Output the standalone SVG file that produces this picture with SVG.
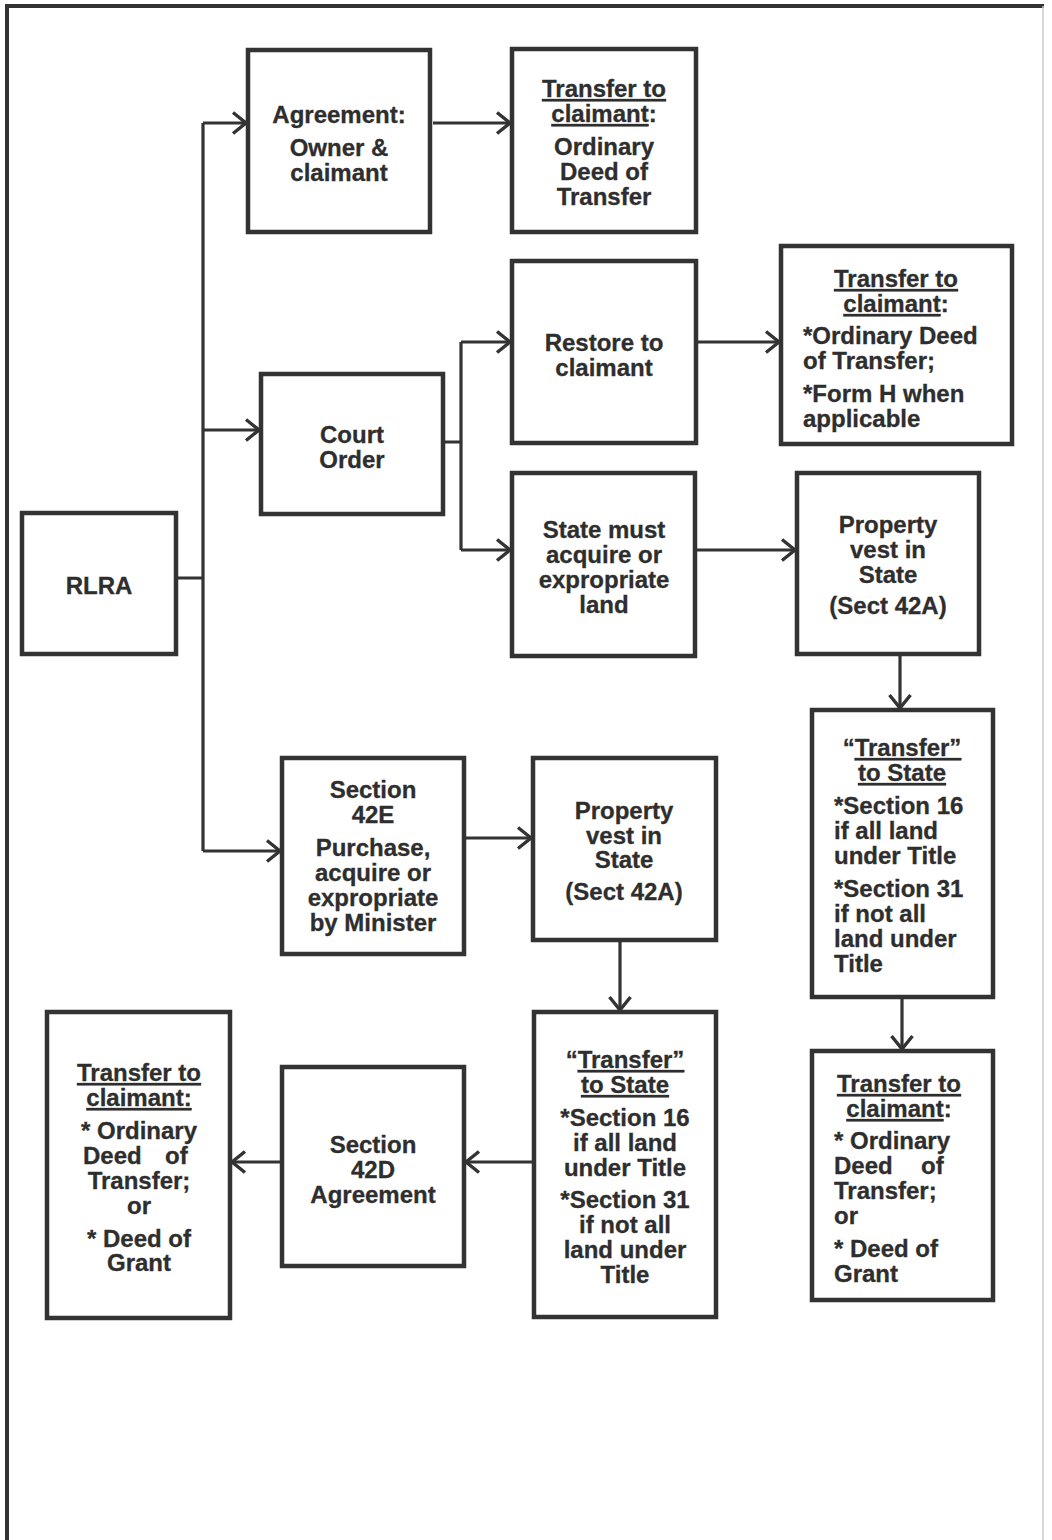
<svg xmlns="http://www.w3.org/2000/svg" width="1052" height="1540" viewBox="0 0 1052 1540">
<defs>
<style>
.box{fill:#fff;stroke:#333;stroke-width:4.5}
.c{fill:none;stroke:#333;stroke-width:3.2}
.t{font-family:"Liberation Sans",Arial,Helvetica,sans-serif;font-weight:bold;font-size:24px;fill:#2e2e2e;stroke:#2e2e2e;stroke-width:0.3}
.m{text-anchor:middle}
.u{text-decoration:underline}
</style>
<marker id="ah" markerUnits="userSpaceOnUse" markerWidth="22" markerHeight="26" refX="15" refY="12" orient="auto" viewBox="0 0 22 26">
<path d="M2,1.5 L15,12 L2,22.5" fill="none" stroke="#333" stroke-width="3.4"/>
</marker>
</defs>
<rect width="1052" height="1540" fill="#fff"/>
<g id="frame">
<path d="M7,1540 V6 H1044" fill="none" stroke="#333" stroke-width="4"/>
<path d="M1043,6 V1540" fill="none" stroke="#ccc" stroke-width="1.5"/>
</g>
<g id="connectors">
<path class="c" d="M176,578 H203 M203,123 V851"/>
<path class="c" d="M203,123 H246" marker-end="url(#ah)"/>
<path class="c" d="M203,430 H259" marker-end="url(#ah)"/>
<path class="c" d="M203,851 H280" marker-end="url(#ah)"/>
<path class="c" d="M433,123 H510" marker-end="url(#ah)"/>
<path class="c" d="M443,442 H461 M461,342 V550"/>
<path class="c" d="M461,342 H510" marker-end="url(#ah)"/>
<path class="c" d="M461,550 H510" marker-end="url(#ah)"/>
<path class="c" d="M696,342 H779" marker-end="url(#ah)"/>
<path class="c" d="M695,550 H795" marker-end="url(#ah)"/>
<path class="c" d="M900,654 V708" marker-end="url(#ah)"/>
<path class="c" d="M902,997 V1049" marker-end="url(#ah)"/>
<path class="c" d="M464,838 H531" marker-end="url(#ah)"/>
<path class="c" d="M620,940 V1010" marker-end="url(#ah)"/>
<path class="c" d="M534,1162 H466" marker-end="url(#ah)"/>
<path class="c" d="M282,1162 H232" marker-end="url(#ah)"/>
</g>
<g id="rlra">
<rect class="box" x="22" y="513" width="154" height="141"/>
<text class="t m" x="99" y="594">RLRA</text>
</g>
<g id="agreement">
<rect class="box" x="248" y="50" width="182" height="182"/>
<text class="t m" x="339" y="123">Agreement:</text>
<text class="t m" x="339" y="156">Owner &amp;</text>
<text class="t m" x="339" y="181">claimant</text>
</g>
<g id="transfer-top">
<rect class="box" x="512" y="49" width="184" height="183"/>
<text class="t m" x="604" y="97"><tspan class="u">Transfer to</tspan></text>
<text class="t m" x="604" y="122"><tspan class="u">claimant</tspan>:</text>
<text class="t m" x="604" y="155">Ordinary</text>
<text class="t m" x="604" y="180">Deed of</text>
<text class="t m" x="604" y="205">Transfer</text>
</g>
<g id="court-order">
<rect class="box" x="261" y="374" width="182" height="140"/>
<text class="t m" x="352" y="443">Court</text>
<text class="t m" x="352" y="468">Order</text>
</g>
<g id="restore">
<rect class="box" x="512" y="261" width="184" height="182"/>
<text class="t m" x="604" y="351">Restore to</text>
<text class="t m" x="604" y="376">claimant</text>
</g>
<g id="transfer-right-top">
<rect class="box" x="781" y="246" width="231" height="198"/>
<text class="t m" x="896" y="287"><tspan class="u">Transfer to</tspan></text>
<text class="t m" x="896" y="312"><tspan class="u">claimant</tspan>:</text>
<text class="t" x="803" y="344">*Ordinary Deed</text>
<text class="t" x="803" y="369">of Transfer;</text>
<text class="t" x="803" y="402">*Form H when</text>
<text class="t" x="803" y="427">applicable</text>
</g>
<g id="state-must">
<rect class="box" x="512" y="473" width="183" height="183"/>
<text class="t m" x="604" y="538">State must</text>
<text class="t m" x="604" y="563">acquire or</text>
<text class="t m" x="604" y="588">expropriate</text>
<text class="t m" x="604" y="613">land</text>
</g>
<g id="vest-right">
<rect class="box" x="797" y="473" width="182" height="181"/>
<text class="t m" x="888" y="533">Property</text>
<text class="t m" x="888" y="558">vest in</text>
<text class="t m" x="888" y="583">State</text>
<text class="t m" x="888" y="614">(Sect 42A)</text>
</g>
<g id="transfer-state-right">
<rect class="box" x="812" y="710" width="181" height="287"/>
<text class="t m" x="902" y="756">“<tspan class="u">Transfer”</tspan></text>
<text class="t m" x="902" y="781"><tspan class="u">to State</tspan></text>
<text class="t" x="834" y="814">*Section 16</text>
<text class="t" x="834" y="839">if all land</text>
<text class="t" x="834" y="864">under Title</text>
<text class="t" x="834" y="897">*Section 31</text>
<text class="t" x="834" y="922">if not all</text>
<text class="t" x="834" y="947">land under</text>
<text class="t" x="834" y="972">Title</text>
</g>
<g id="transfer-claimant-right">
<rect class="box" x="812" y="1051" width="181" height="249"/>
<text class="t m" x="899" y="1092"><tspan class="u">Transfer to</tspan></text>
<text class="t m" x="899" y="1117"><tspan class="u">claimant</tspan>:</text>
<text class="t" x="834" y="1149">* Ordinary</text>
<text class="t" x="834" y="1174">Deed<tspan x="921">of</tspan></text>
<text class="t" x="834" y="1199">Transfer;</text>
<text class="t" x="834" y="1224">or</text>
<text class="t" x="834" y="1257">* Deed of</text>
<text class="t" x="834" y="1282">Grant</text>
</g>
<g id="section-42e">
<rect class="box" x="282" y="758" width="182" height="196"/>
<text class="t m" x="373" y="798">Section</text>
<text class="t m" x="373" y="823">42E</text>
<text class="t m" x="373" y="856">Purchase,</text>
<text class="t m" x="373" y="881">acquire or</text>
<text class="t m" x="373" y="906">expropriate</text>
<text class="t m" x="373" y="931">by Minister</text>
</g>
<g id="vest-middle">
<rect class="box" x="533" y="758" width="183" height="182"/>
<text class="t m" x="624" y="819">Property</text>
<text class="t m" x="624" y="844">vest in</text>
<text class="t m" x="624" y="868">State</text>
<text class="t m" x="624" y="900">(Sect 42A)</text>
</g>
<g id="transfer-state-middle">
<rect class="box" x="534" y="1012" width="182" height="305"/>
<text class="t m" x="625" y="1068">“<tspan class="u">Transfer”</tspan></text>
<text class="t m" x="625" y="1093"><tspan class="u">to State</tspan></text>
<text class="t m" x="625" y="1126">*Section 16</text>
<text class="t m" x="625" y="1151">if all land</text>
<text class="t m" x="625" y="1176">under Title</text>
<text class="t m" x="625" y="1208">*Section 31</text>
<text class="t m" x="625" y="1233">if not all</text>
<text class="t m" x="625" y="1258">land under</text>
<text class="t m" x="625" y="1283">Title</text>
</g>
<g id="section-42d">
<rect class="box" x="282" y="1067" width="182" height="199"/>
<text class="t m" x="373" y="1153">Section</text>
<text class="t m" x="373" y="1178">42D</text>
<text class="t m" x="373" y="1203">Agreement</text>
</g>
<g id="transfer-claimant-left">
<rect class="box" x="47" y="1012" width="183" height="306"/>
<text class="t m" x="139" y="1081"><tspan class="u">Transfer to</tspan></text>
<text class="t m" x="139" y="1106"><tspan class="u">claimant:</tspan></text>
<text class="t m" x="139" y="1139">* Ordinary</text>
<text class="t" x="83" y="1164">Deed<tspan x="165">of</tspan></text>
<text class="t m" x="139" y="1189">Transfer;</text>
<text class="t m" x="139" y="1214">or</text>
<text class="t m" x="139" y="1247">* Deed of</text>
<text class="t m" x="139" y="1271">Grant</text>
</g>
</svg>
